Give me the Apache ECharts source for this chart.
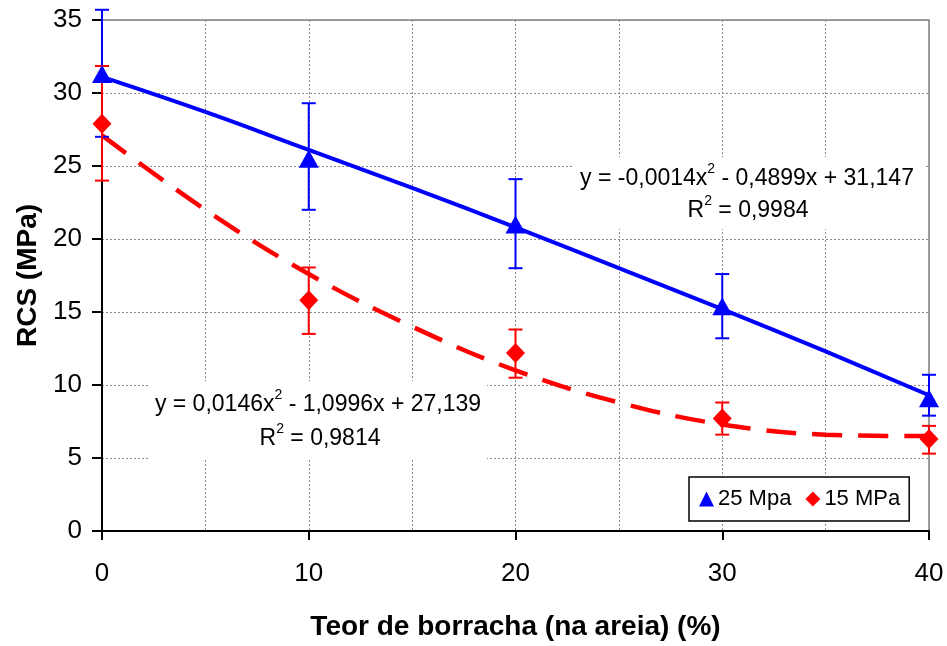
<!DOCTYPE html>
<html>
<head>
<meta charset="utf-8">
<script src="https://cdn.jsdelivr.net/npm/echarts@6/dist/echarts.min.js"></script>
<style>
html,body{margin:0;padding:0;background:#fff;}
#chart{width:947px;height:646px;}
</style>
</head>
<body>
<div id="chart"></div>
<script>
// Data
var xValues = [0, 10, 20, 30, 40];
var mpa25 = [31.3, 25.5, 21.0, 15.4, 9.1];
var mpa25Low = [27.0, 22.0, 18.0, 13.2, 7.9];
var mpa25High = [35.7, 29.3, 24.1, 17.6, 10.7];
var mpa15 = [27.9, 15.8, 12.2, 7.7, 6.3];
var mpa15Low = [24.0, 13.5, 10.5, 6.6, 5.3];
var mpa15High = [31.85, 18.05, 13.8, 8.8, 7.2];
// trend curves as seen in the picture
var trendX = [0, 5, 10, 15, 20, 25, 30, 35, 40];
var trend25 = [31.1, 28.7, 26.1, 23.5, 20.8, 18.0, 15.2, 12.3, 9.3];
var trend15 = [27.1, 22.0, 17.6, 14.0, 11.0, 8.8, 7.3, 6.6, 6.5];
var yTicks = [0, 5, 10, 15, 20, 25, 30, 35];
var xTicks = [0, 10, 20, 30, 40];
var seriesNames = ['25 Mpa', '15 MPa'];
var eq25Line1 = '{n|y = -0,0014x}{sup|2}{n| - 0,4899x + 31,147}';
var eq25Line2 = '{n|R}{sup|2}{n| = 0,9984}';
var eq15Line1 = '{n|y = 0,0146x}{sup|2}{n| - 1,0996x + 27,139}';
var eq15Line2 = '{n|R}{sup|2}{n| = 0,9814}';

function pairs(xs, ys) { return xs.map(function (x, i) { return [x, ys[i]]; }); }
function bars(xs, lo, hi) { return xs.map(function (x, i) { return [x, lo[i], hi[i]]; }); }

function errorRender(color) {
  return function (params, api) {
    var x = api.value(0);
    var lo = api.coord([x, api.value(1)]);
    var hi = api.coord([x, api.value(2)]);
    var hw = 7;
    var st = { stroke: color, lineWidth: 2 };
    return {
      type: 'group',
      children: [
        { type: 'line', shape: { x1: lo[0], y1: lo[1], x2: hi[0], y2: hi[1] }, style: st },
        { type: 'line', shape: { x1: lo[0] - hw, y1: lo[1], x2: lo[0] + hw, y2: lo[1] }, style: st },
        { type: 'line', shape: { x1: hi[0] - hw, y1: hi[1], x2: hi[0] + hw, y2: hi[1] }, style: st }
      ]
    };
  };
}

var font = 'Liberation Sans, Arial, sans-serif';
var eqRich = {
  n: { fontSize: 23, fontFamily: font, fill: '#000', lineHeight: 28, verticalAlign: 'bottom' },
  sup: { fontSize: 14, fontFamily: font, fill: '#000', lineHeight: 14, verticalAlign: 'top' }
};

function eqLine(text, cx, cy) {
  return {
    type: 'text', x: cx, y: cy, z: 60,
    style: { text: text, fill: '#000', fontSize: 23, fontFamily: font, align: 'center', verticalAlign: 'middle', rich: eqRich }
  };
}

var chart = echarts.init(document.getElementById('chart'), null, { renderer: 'canvas' });

chart.setOption({
  animation: false,
  backgroundColor: '#ffffff',
  grid: { left: 102, right: 18, top: 20, bottom: 114, show: true, borderColor: '#808080', borderWidth: 1.5, backgroundColor: 'transparent' },
  xAxis: {
    type: 'value', min: 0, max: 40, interval: 10,
    name: 'Teor de borracha (na areia) (%)', nameLocation: 'middle', nameGap: 82,
    nameTextStyle: { fontFamily: font, fontWeight: 'bold', fontSize: 28, color: '#000' },
    axisLine: { show: true, onZero: false, lineStyle: { color: '#000', width: 2 } },
    axisTick: { show: true, length: 9, lineStyle: { color: '#000', width: 2 } },
    axisLabel: { fontFamily: font, fontSize: 26, color: '#000', margin: 30,
      formatter: function (v) { return xTicks.indexOf(v) >= 0 ? String(v) : ''; } },
    splitLine: { show: true, lineStyle: { color: '#8c8c8c', width: 1, type: [2, 2] } },
    minorTick: { show: false, splitNumber: 2 },
    minorSplitLine: { show: true, lineStyle: { color: '#8c8c8c', width: 1, type: [2, 2] } }
  },
  yAxis: {
    type: 'value', min: 0, max: 35, interval: 5,
    name: 'RCS (MPa)', nameLocation: 'middle', nameGap: 59,
    nameTextStyle: { fontFamily: font, fontWeight: 'bold', fontSize: 28, color: '#000' },
    axisLine: { show: true, onZero: false, lineStyle: { color: '#000', width: 2 } },
    axisTick: { show: true, length: 10, lineStyle: { color: '#000', width: 2 } },
    axisLabel: { fontFamily: font, fontSize: 26, color: '#000', margin: 20,
      formatter: function (v) { return yTicks.indexOf(v) >= 0 ? String(v) : ''; } },
    splitLine: { show: true, lineStyle: { color: '#8c8c8c', width: 1, type: [2, 2] } }
  },
  legend: {
    data: [
      { name: seriesNames[0], icon: 'triangle', itemStyle: { color: '#0000ff' } },
      { name: seriesNames[1], icon: 'diamond', itemStyle: { color: '#ff0000' } }
    ],
    left: 689, top: 477,
    orient: 'horizontal',
    backgroundColor: '#ffffff', borderColor: '#000', borderWidth: 1.5,
    padding: [11, 9, 11, 10], itemGap: 14, itemWidth: 15, itemHeight: 15,
    textStyle: { fontFamily: font, fontSize: 22, color: '#000', padding: [0, 0, 0, -1] }
  },
  graphic: [
    { type: 'rect', z: 55, shape: { x: 573, y: 157, width: 352, height: 72 }, style: { fill: '#ffffff' } },
    eqLine(eq25Line1, 747, 176),
    eqLine(eq25Line2, 748, 208),
    { type: 'rect', z: 55, shape: { x: 148, y: 381, width: 339, height: 79 }, style: { fill: '#ffffff' } },
    eqLine(eq15Line1, 318, 402),
    eqLine(eq15Line2, 320, 436)
  ],
  series: [
    { name: 'trend25', type: 'line', smooth: 0.4, data: pairs(trendX, trend25), symbol: 'none',
      lineStyle: { color: '#0000ff', width: 4 }, z: 3, silent: true },
    { name: 'trend15', type: 'line', smooth: 0.4, data: pairs(trendX, trend15), symbol: 'none',
      lineStyle: { color: '#ff0000', width: 4.5, type: [30, 16] }, z: 3, silent: true },
    { name: 'err25', type: 'custom', renderItem: errorRender('#0000ff'), data: bars(xValues, mpa25Low, mpa25High), z: 4, clip: false },
    { name: 'err15', type: 'custom', renderItem: errorRender('#ff0000'), data: bars(xValues, mpa15Low, mpa15High), z: 5, clip: false },
    { name: seriesNames[0], type: 'scatter', data: pairs(xValues, mpa25), symbol: 'triangle', symbolSize: [20, 18],
      itemStyle: { color: '#0000ff', opacity: 1 }, z: 6, clip: false },
    { name: seriesNames[1], type: 'scatter', data: pairs(xValues, mpa15), symbol: 'diamond', symbolSize: [19, 20],
      itemStyle: { color: '#ff0000', opacity: 1 }, z: 7, clip: false }
  ]
});
</script>
</body>
</html>
